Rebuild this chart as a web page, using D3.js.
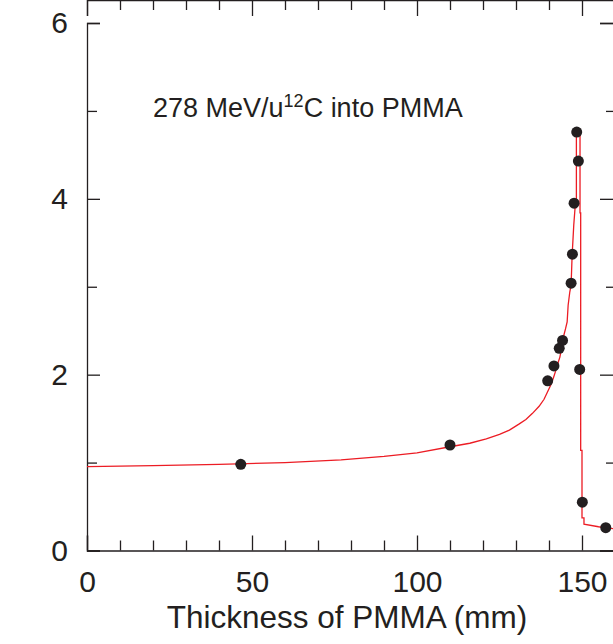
<!DOCTYPE html>
<html>
<head>
<meta charset="utf-8">
<script src="https://cdn.jsdelivr.net/npm/d3@7"></script>
<style>
	body { margin: 0; background: #fff; }
	svg { display: block; }
	text { font-family: "Liberation Sans", Arial, Helvetica, sans-serif; fill: #231f20; }
	.axis path, .axis line { stroke: #231f20; stroke-width: 1.3; }
	.axis text { font-size: 30px; }
	.doseLine { fill: none; stroke: #ec1c24; stroke-width: 1.3; }
</style>
</head>
<body>
<div id="chart"></div>
<script>
var w = 613,
    h = 644;

/* measured points (thickness mm, relative dose) */
var pointX = [46.6, 110.0, 139.6, 141.5, 143.1, 144.1, 146.7, 147.1, 147.6, 148.4, 148.9, 149.3, 150.1, 157.2];
var pointY = [0.98, 1.20, 1.93, 2.10, 2.30, 2.39, 3.04, 3.37, 3.95, 4.76, 4.43, 2.06, 0.55, 0.26];

/* calculated depth dose curve */
var curveX = [0, 20, 40, 60, 77, 90, 100, 110, 116, 121, 125, 128, 131, 133, 135, 137, 138.5, 139.5, 140.5,
	141.3, 142, 142.7, 143.3, 143.8, 144.3, 145, 145.5, 145.8, 146.3, 146.7, 147.0, 147.5, 147.9, 148.3, 148.3, 149.4,
	149.4, 149.6, 149.6, 150.0, 150.0, 150.6, 150.6, 155, 160];
var curveY = [0.955, 0.965, 0.98, 1.00, 1.03, 1.07, 1.11, 1.18, 1.22, 1.27, 1.32, 1.37, 1.44, 1.49, 1.56, 1.64, 1.72, 1.80, 1.88,
	1.96, 2.04, 2.13, 2.20, 2.30, 2.42, 2.52, 2.60, 2.79, 2.94, 3.02, 3.35, 3.70, 3.90, 3.90, 4.79, 4.79,
	3.84, 3.84, 1.14, 1.14, 0.37, 0.37, 0.30, 0.27, 0.245];

var xMajor = [0, 50, 100, 150];
var xMinor = [10, 20, 30, 40, 60, 70, 80, 90, 110, 120, 130, 140, 160];
var yMajor = [0, 2, 4, 6];
var yMinor = [1, 3, 5];

var xTitle = "Thickness of PMMA (mm)";
var yTitle = "Relative dose";

var points = pointX.map(function(d, i) {
	return {"x": d, "y": pointY[i]};
});
var curve = curveX.map(function(d, i) {
	return {"x": d, "y": curveY[i]};
});

var svg = d3.select("#chart")
			.append("svg")
			.attr("width", w)
			.attr("height", h);

/*Scales*/
var xScale = d3.scaleLinear()
				.domain([0, 160])
				.range([87, 87 + 3.3 * 160]);
var yScale = d3.scaleLinear()
				.domain([0, 6])
				.range([550.5, 23]);

var left = 87, right = xScale(160), top = 23, bottom = 550.5;

/*Axes*/
function noLine(g) { g.select(".domain").remove(); }
function noText(g) { g.selectAll("text").remove(); }

svg.append("g")
	.attr("class", "axis")
	.attr("transform", "translate(0," + bottom + ")")
	.call(d3.axisBottom(xScale).tickValues(xMajor).tickSize(-15).tickPadding(20).tickFormat(d3.format("d")));
svg.append("g")
	.attr("class", "axis")
	.attr("transform", "translate(0," + bottom + ")")
	.call(d3.axisBottom(xScale).tickValues(xMinor).tickSize(-10))
	.call(noLine).call(noText);
svg.append("g")
	.attr("class", "axis")
	.attr("transform", "translate(0," + top + ")")
	.call(d3.axisTop(xScale).tickValues(xMajor).tickSize(-16))
	.call(noText);
svg.append("g")
	.attr("class", "axis")
	.attr("transform", "translate(0," + top + ")")
	.call(d3.axisTop(xScale).tickValues(xMinor).tickSize(-10))
	.call(noLine).call(noText);

svg.append("g")
	.attr("class", "axis")
	.attr("transform", "translate(" + left + ",0)")
	.call(d3.axisLeft(yScale).tickValues(yMajor).tickSize(-13).tickPadding(19).tickFormat(d3.format("d")));
svg.append("g")
	.attr("class", "axis")
	.attr("transform", "translate(" + left + ",0)")
	.call(d3.axisLeft(yScale).tickValues(yMinor).tickSize(-10))
	.call(noLine).call(noText);
svg.append("g")
	.attr("class", "axis")
	.attr("transform", "translate(" + right + ",0)")
	.call(d3.axisRight(yScale).tickValues(yMajor).tickSize(-15))
	.call(noText);
svg.append("g")
	.attr("class", "axis")
	.attr("transform", "translate(" + right + ",0)")
	.call(d3.axisRight(yScale).tickValues(yMinor).tickSize(-9))
	.call(noLine).call(noText);

svg.selectAll(".axis path").attr("fill", "none");

/*Draw curve*/
var doseLine = d3.line()
				.x(function(d) { return xScale(d.x); })
				.y(function(d) { return yScale(d.y); });
svg.append("path")
	.datum(curve)
	.attr("class", "doseLine")
	.attr("d", doseLine);

/*Draw Dots*/
svg.selectAll("circle")
	.data(points)
	.enter()
	.append("circle")
	.attr("cx", function(d) { return xScale(d.x); })
	.attr("cy", function(d) { return yScale(d.y); })
	.attr("r", 5.5)
	.attr("fill", "#231f20");

/*Titles*/
svg.append("text")
	.attr("x", 347)
	.attr("y", 628)
	.attr("text-anchor", "middle")
	.style("font-size", "31.5px")
	.text(xTitle);
var midY = (top + bottom) / 2;
svg.append("text")
	.attr("x", 34)
	.attr("y", midY)
	.attr("transform", "rotate(-90,34," + midY + ")")
	.attr("text-anchor", "middle")
	.style("font-size", "31.5px")
	.text(yTitle);

var note = svg.append("text")
	.attr("x", 153)
	.attr("y", 117)
	.style("font-size", "27px");
note.append("tspan").text("278 MeV/u");
note.append("tspan").attr("dy", -10).style("font-size", "18px").text("12");
note.append("tspan").attr("dy", 10).text("C into PMMA");
</script>
</body>
</html>
